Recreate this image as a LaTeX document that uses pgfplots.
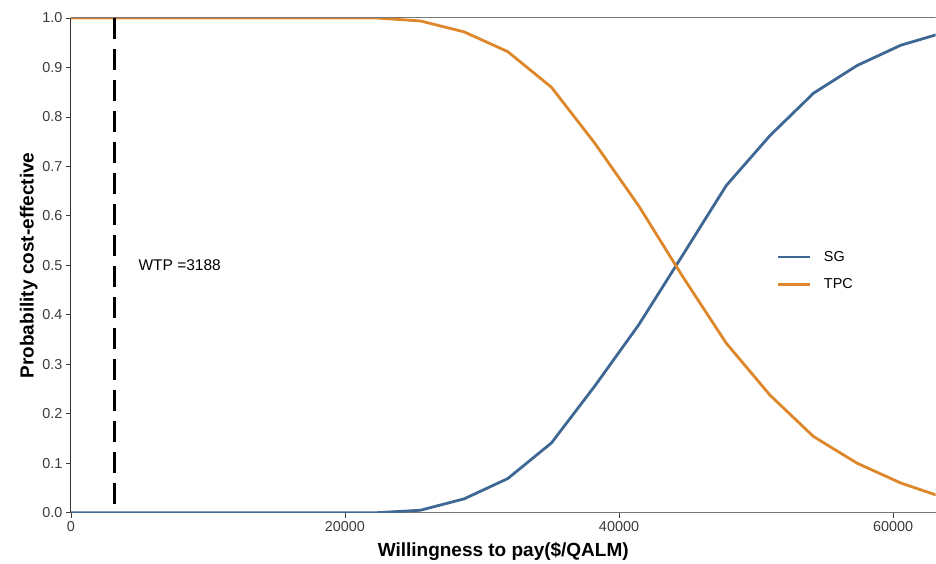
\documentclass[border=0pt]{standalone}
\usepackage{pgfplots}
\pgfplotsset{compat=1.18}
\usepackage{fontspec}
\setmainfont{Liberation Sans}
\definecolor{sgblue}{RGB}{62,103,148}
\definecolor{tpcorange}{RGB}{222,135,42}
\definecolor{axgrey}{RGB}{60,60,60}
\definecolor{linegrey}{RGB}{120,120,120}
\pgfplotstableread{
x sg tpc
0 0 1
3188 0 1
6376 0 1
9564 0 1
12752 0 1
15940 0 1
19128 0 1
22316 0 1
25504 0.005 0.994
28692 0.028 0.972
31880 0.069 0.932
35068 0.141 0.860
38256 0.257 0.746
41444 0.380 0.620
44632 0.520 0.478
47820 0.661 0.343
51008 0.762 0.238
54196 0.848 0.154
57384 0.904 0.100
60572 0.945 0.060
63760 0.971 0.030
}\datatable
\begin{document}
\begin{tikzpicture}
\begin{axis}[
  at={(0pt,0pt)}, anchor=south west,
  scale only axis, width=865pt, height=495pt,
  xmin=0, xmax=63100, ymin=0, ymax=1,
  axis x line*=bottom, axis y line*=left,
  x axis line style={draw=linegrey, line width=1pt, -},
  y axis line style={draw=black!80, line width=1pt, -},
  xtick={0,20000,40000,60000},
  ytick={0,0.1,0.2,0.3,0.4,0.5,0.6,0.7,0.8,0.9,1.0},
  scaled x ticks=false,
  tick style={draw=axgrey, line width=0.8pt},
  tick align=outside, major tick length=5pt,
  /pgf/number format/assume math mode=true,
  xticklabel style={/pgf/number format/1000 sep={}, font=\fontsize{14.4}{16}\selectfont, text=axgrey},
  yticklabel style={/pgf/number format/.cd, fixed, fixed zerofill, precision=1, /tikz/.cd, font=\fontsize{14.4}{16}\selectfont, text=axgrey},
  xlabel={\textbf{Willingness to pay(\$/QALM)}},
  ylabel={\textbf{Probability cost-effective}},
  xlabel style={font=\fontsize{19}{22}\selectfont, yshift=-4pt},
  ylabel style={font=\fontsize{19}{22}\selectfont, yshift=-2pt},
  legend style={at={(0.8125,0.537)}, anchor=north west, draw=none, fill=none,
    font=\fontsize{14.4}{16}\selectfont, row sep=12pt},
  legend cell align=left,
  legend image code/.code={\draw[#1] (0pt,0pt) -- (32pt,0pt); \path[draw=none] (0pt,0pt) -- (44pt,0pt);},
  clip=true,
]
\addplot[sgblue, line width=2.8pt] table[x=x, y=sg] {\datatable};
\addlegendentry{SG}
\addplot[tpcorange, line width=2.8pt] table[x=x, y=tpc] {\datatable};
\addlegendentry{TPC}
\addplot[black, line width=3pt, dash pattern=on 21pt off 10pt, forget plot] coordinates {(3188,1) (3188,0)};
\draw[linegrey, line width=1pt] (axis cs:0,1) -- (axis cs:63100,1);
\node[anchor=west, font=\fontsize{15.5}{18}\selectfont] at (axis cs:4680,0.5) {WTP =3188};
\end{axis}
\useasboundingbox (-71pt,-51pt) rectangle (865pt,513pt);
\end{tikzpicture}
\end{document}
